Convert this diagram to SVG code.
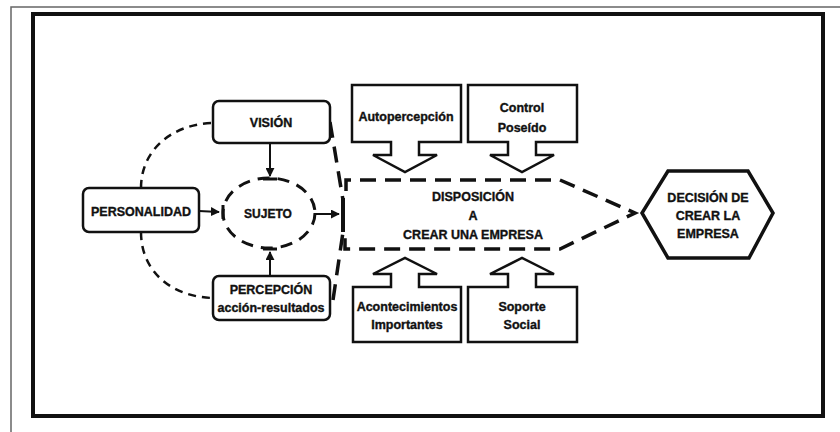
<svg xmlns="http://www.w3.org/2000/svg" width="840" height="432" viewBox="0 0 840 432">
<defs>
<style>
.t{font-family:"Liberation Sans",Arial,sans-serif;font-weight:bold;fill:#111;stroke:#111;stroke-width:0.35;text-anchor:middle}
.box{fill:#fff;stroke:#111;stroke-width:2.5}
.call{fill:#fff;stroke:#111;stroke-width:2.5;stroke-linejoin:miter}
.dc{fill:none;stroke:#111;stroke-width:2.5;stroke-dasharray:8 6}
.dl{fill:none;stroke:#111;stroke-width:3.5;stroke-dasharray:16 9}
.ln{fill:none;stroke:#111;stroke-width:2}
.bar{stroke:#111;stroke-width:3}
</style>
<marker id="ah" viewBox="0 0 10 10" refX="9" refY="5" markerWidth="4.5" markerHeight="4.5" orient="auto">
<path d="M0,0 L10,5 L0,10 z" fill="#111"/>
</marker>
</defs>
<rect width="840" height="432" fill="#fff"/>
<!-- outer thin frame -->
<path d="M11,432 V7 H840" fill="none" stroke="#666" stroke-width="1.5"/>
<!-- thick frame -->
<rect x="33" y="14" width="790" height="402" fill="none" stroke="#111" stroke-width="4"/>

<g id="connectors">
<path class="dc" d="M141,188 C141,150 172,124 213,123"/>
<path class="dc" d="M141,232 C141,272 172,297 213,298"/>
<line class="ln" x1="199" y1="211" x2="219" y2="212" marker-end="url(#ah)"/>
<line class="bar" x1="223" y1="205" x2="223" y2="219"/>
<line class="ln" x1="270" y1="143" x2="270" y2="176" marker-end="url(#ah)"/>
<line class="bar" x1="263" y1="179" x2="277" y2="179"/>
<line class="ln" x1="270" y1="276" x2="270" y2="252" marker-end="url(#ah)"/>
<line class="bar" x1="263" y1="249" x2="277" y2="249"/>
<line class="ln" x1="316" y1="214" x2="339" y2="214" marker-end="url(#ah)"/>
<line stroke="#111" stroke-width="4" x1="343" y1="198" x2="343" y2="232"/>
<path class="dl" d="M330,122 L343,200"/>
<path class="dl" d="M333,300 L343,232"/>
</g>

<g id="personalidad">
<rect class="box" x="83" y="188" width="116" height="44" rx="6"/>
<text class="t" x="141" y="215.5" font-size="12.5">PERSONALIDAD</text>
</g>
<g id="vision">
<rect class="box" x="213" y="101" width="117" height="42" rx="6"/>
<text class="t" x="271" y="127" font-size="12.5">VISIÓN</text>
</g>
<g id="sujeto">
<ellipse cx="269" cy="213" rx="46" ry="35" fill="none" stroke="#111" stroke-width="3" stroke-dasharray="12 8"/>
<text class="t" x="268" y="218" font-size="12">SUJETO</text>
</g>
<g id="percepcion">
<rect class="box" x="213" y="276" width="117" height="44" rx="6"/>
<text class="t" x="271" y="294" font-size="12.5">PERCEPCIÓN</text>
<text class="t" x="271" y="312" font-size="12.5">acción-resultados</text>
</g>

<g id="disposicion">
<path class="dl" d="M346,191 V180 H560 L635,213 L560,249 H345 V238"/>
<text class="t" x="473" y="201" font-size="12.5">DISPOSICIÓN</text>
<text class="t" x="473" y="220" font-size="12.5">A</text>
<text class="t" x="473" y="239" font-size="12.5">CREAR UNA EMPRESA</text>
</g>

<g id="autopercepcion">
<path class="call" d="M352,85 H461 V142 H419 V155 H437 L405,172 L373,155 H391 V142 H352 Z"/>
<text class="t" x="406" y="121" font-size="12.5">Autopercepción</text>
</g>
<g id="control">
<path class="call" d="M468,85 H577 V142 H536 V155 H554 L522,172 L490,155 H508 V142 H468 Z"/>
<text class="t" x="522" y="112" font-size="12.5">Control</text>
<text class="t" x="522" y="132" font-size="12.5">Poseído</text>
</g>
<g id="acontecimientos">
<path class="call" d="M353,287 H391 V274 H373 L405,258 L437,274 H419 V287 H461 V342 H353 Z"/>
<text class="t" x="407" y="311" font-size="12.5">Acontecimientos</text>
<text class="t" x="407" y="329" font-size="12.5">Importantes</text>
</g>
<g id="soporte">
<path class="call" d="M468,287 H508 V274 H490 L522,258 L554,274 H536 V287 H577 V342 H468 Z"/>
<text class="t" x="522" y="311" font-size="12.5">Soporte</text>
<text class="t" x="522" y="329" font-size="12.5">Social</text>
</g>

<g id="decision">
<path d="M668,171 H748 L773,213 L749,258 H668 L642,213 Z" fill="#fff" stroke="#111" stroke-width="3.5" stroke-linejoin="miter"/>
<text class="t" x="708" y="202" font-size="12.5">DECISIÓN DE</text>
<text class="t" x="708" y="220" font-size="12.5">CREAR LA</text>
<text class="t" x="708" y="238" font-size="12.5">EMPRESA</text>
</g>
</svg>
